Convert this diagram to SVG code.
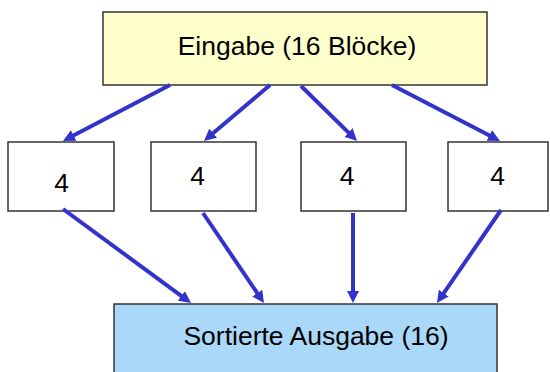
<svg xmlns="http://www.w3.org/2000/svg" width="550" height="372" viewBox="0 0 550 372">
<style>
.box{stroke:#333;stroke-width:1.5}
.lbl{font-family:"Liberation Sans",Arial,sans-serif;font-size:26.5px;fill:#000}
.arr{stroke:#3333cc;stroke-width:4;fill:none;marker-end:url(#ah)}
</style>
<defs>
<marker id="ah" markerUnits="userSpaceOnUse" markerWidth="12" markerHeight="12" refX="4" refY="6" orient="auto">
<path d="M0,0 L12,6 L0,12 z" fill="#3333cc"/>
</marker>
</defs>
<rect width="550" height="372" fill="#fff"/>
<g id="eingabe">
<rect class="box" x="103" y="12" width="384" height="73" fill="#ffffcc"/>
<text class="lbl" x="297" y="55" text-anchor="middle">Eingabe (16 Blöcke)</text>
</g>
<g id="b1">
<rect class="box" x="8" y="142" width="106" height="69" fill="#fff"/>
<text class="lbl" x="61.5" y="192" text-anchor="middle">4</text>
</g>
<g id="b2">
<rect class="box" x="151" y="142" width="105" height="69" fill="#fff"/>
<text class="lbl" x="197.5" y="185" text-anchor="middle">4</text>
</g>
<g id="b3">
<rect class="box" x="301" y="142" width="105" height="69" fill="#fff"/>
<text class="lbl" x="347" y="185" text-anchor="middle">4</text>
</g>
<g id="b4">
<rect class="box" x="448" y="142" width="100" height="69" fill="#fff"/>
<text class="lbl" x="497.5" y="185" text-anchor="middle">4</text>
</g>
<g id="ausgabe">
<rect class="box" x="114" y="304" width="383" height="75" fill="#aad8f8"/>
<text class="lbl" x="316" y="345" text-anchor="middle">Sortierte Ausgabe (16)</text>
</g>
<g id="connectors">
<line class="arr" x1="170" y1="85" x2="70.1" y2="137.3"/>
<line class="arr" x1="270" y1="85" x2="210.1" y2="135.8"/>
<line class="arr" x1="301" y1="86" x2="351.3" y2="135.4"/>
<line class="arr" x1="392" y1="85" x2="492.9" y2="137.3"/>
<line class="arr" x1="63" y1="209" x2="184.6" y2="298.3"/>
<line class="arr" x1="203" y1="213" x2="259.5" y2="296.4"/>
<line class="arr" x1="353" y1="213" x2="353" y2="295"/>
<line class="arr" x1="501" y1="210" x2="441.5" y2="296.4"/>
</g>
</svg>
